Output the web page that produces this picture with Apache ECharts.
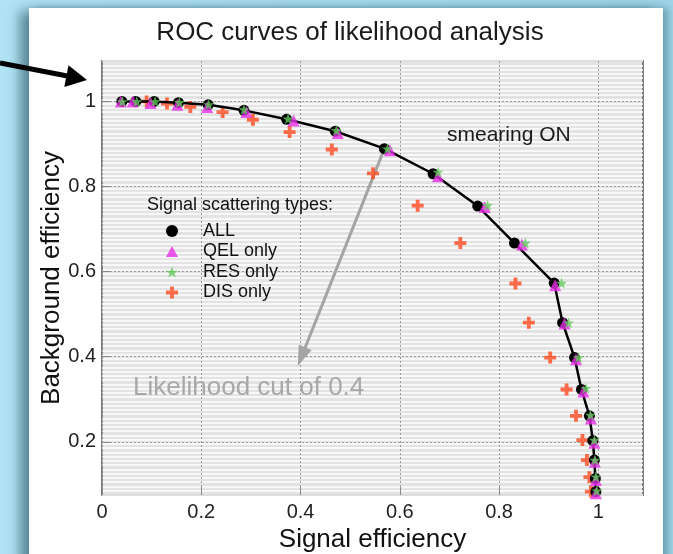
<!DOCTYPE html>
<html>
<head>
<meta charset="utf-8">
<script src="https://cdn.jsdelivr.net/npm/echarts@6/dist/echarts.min.js"></script>
<style>
  html, body { margin: 0; padding: 0; width: 673px; height: 554px; overflow: hidden; }
  body { position: relative; background: linear-gradient(to right, #b0e4f5 0%, #a7ddef 50%, #9fd5e8 100%); }
  #panel { position: absolute; left: 29px; top: 8px; width: 634px; height: 620px; background: #fff;
           box-shadow: -9px 3px 12px rgba(30, 70, 85, 0.6), 5px 0 7px rgba(30, 70, 85, 0.35); }
  #chart { position: absolute; left: 0; top: 0; width: 673px; height: 554px; }
</style>
</head>
<body>
<div id="panel"></div>
<div id="chart"></div>
<script>
// Signal / background efficiency pairs for each likelihood cut
const allSignal     = [0.040, 0.068, 0.105, 0.154, 0.214, 0.286, 0.372, 0.470, 0.569, 0.667, 0.757, 0.831, 0.911, 0.928, 0.952, 0.966, 0.982, 0.989, 0.992, 0.994, 0.995];
const allBackground = [1.000, 1.000, 1.000, 0.997, 0.992, 0.979, 0.958, 0.930, 0.889, 0.830, 0.754, 0.667, 0.573, 0.480, 0.398, 0.323, 0.261, 0.203, 0.157, 0.114, 0.083];

const qelSignal     = [0.038, 0.062, 0.098, 0.152, 0.212, 0.291, 0.386, 0.475, 0.580, 0.677, 0.771, 0.846, 0.913, 0.932, 0.955, 0.970, 0.985, 0.992, 0.993, 0.995, 0.995];
const qelBackground = [1.000, 1.000, 0.996, 0.992, 0.987, 0.975, 0.955, 0.926, 0.885, 0.824, 0.752, 0.664, 0.568, 0.478, 0.394, 0.318, 0.255, 0.198, 0.153, 0.110, 0.079];

const resSignal     = [0.041, 0.070, 0.107, 0.156, 0.215, 0.286, 0.375, 0.472, 0.575, 0.677, 0.777, 0.853, 0.926, 0.940, 0.960, 0.975, 0.984, 0.992, 0.993, 0.995, 0.997];
const resBackground = [1.000, 1.000, 1.000, 0.998, 0.993, 0.981, 0.959, 0.932, 0.889, 0.834, 0.756, 0.667, 0.573, 0.480, 0.398, 0.326, 0.263, 0.204, 0.157, 0.118, 0.085];

const disSignal     = [0.090, 0.131, 0.178, 0.243, 0.304, 0.378, 0.463, 0.546, 0.636, 0.722, 0.833, 0.860, 0.903, 0.936, 0.955, 0.968, 0.977, 0.982, 0.985];
const disBackground = [1.000, 0.995, 0.987, 0.975, 0.957, 0.928, 0.887, 0.831, 0.755, 0.667, 0.572, 0.480, 0.398, 0.323, 0.261, 0.204, 0.157, 0.117, 0.083];

// Tick labels
const xTicks = [0, 0.2, 0.4, 0.6, 0.8, 1];
const yTicks = [0.2, 0.4, 0.6, 0.8, 1];

// Cut annotation: starts at the ALL point for the 0.4 cut
const cutIndex = 8;
const cutArrowEnd = [0.402, 0.400];

const starPath = 'path://M50,0 L61.8,35.1 L98.1,35.1 L68.8,56.8 L79.4,91 L50,70 L20.6,91 L31.2,56.8 L1.9,35.1 L38.2,35.1 Z';
const plusPath = 'path://M34,0 H66 V34 H100 V66 H66 V100 H34 V66 H0 V34 H34 Z';
const trianglePath = 'path://M50,0 L100,90 L0,90 Z';

function zip(xs, ys) { return xs.map((x, i) => [x, ys[i]]); }

const FONT = '"Liberation Sans", Arial, Helvetica, sans-serif';
const chart = echarts.init(document.getElementById('chart'), null, { renderer: 'canvas' });

chart.setOption({
  animation: false,
  textStyle: { fontFamily: FONT },
  grid: {
    left: 102, top: 61, right: 30, bottom: 59, outerBoundsMode: 'none',
    show: true, backgroundColor: '#e3e3e3', borderColor: '#7c7c7c', borderWidth: 2, z: 0
  },
  xAxis: [{
    type: 'value', min: 0, max: 1.09, interval: 0.2, z: 2,
    name: 'Signal efficiency', nameLocation: 'middle', nameGap: 32, nameMoveOverlap: false,
    nameTextStyle: { fontSize: 26, color: '#111', fontFamily: FONT },
    axisLine: { show: false },
    axisTick: { show: true, inside: true, length: 8, customValues: xTicks, lineStyle: { color: '#888' } },
    axisLabel: { customValues: xTicks, fontSize: 20, color: '#222', margin: 7, fontFamily: FONT },
    splitLine: { show: true, lineStyle: { color: '#9c9c9c', type: [2, 2], width: 1 } }
  }],
  yAxis: [{
    type: 'value', min: 0.075, max: 1.095, z: 2,
    name: 'Background efficiency', nameLocation: 'middle', nameGap: 37, nameMoveOverlap: false,
    nameTextStyle: { fontSize: 26, color: '#111', fontFamily: FONT },
    axisLine: { show: false },
    axisTick: { show: true, inside: true, length: 8, customValues: yTicks, lineStyle: { color: '#888' } },
    axisLabel: { customValues: yTicks, fontSize: 20, color: '#222', margin: 6, fontFamily: FONT },
    splitLine: { show: true, lineStyle: { color: '#9c9c9c', type: [2, 2], width: 1 } }
  }, {
    // fine horizontal hatching of the plot background
    type: 'value', min: 0, max: 1.02, interval: 0.01, z: 1,
    axisLine: { show: false }, axisTick: { show: false }, axisLabel: { show: false },
    splitLine: { show: true, lineStyle: { color: '#ffffff', width: 1.5 } }
  }],
  legend: {
    data: [
      { name: 'ALL', icon: 'circle' },
      { name: 'QEL only', icon: trianglePath },
      { name: 'RES only', icon: starPath },
      { name: 'DIS only', icon: plusPath }
    ],
    orient: 'vertical', left: 161, top: 217,
    itemWidth: 12, itemHeight: 12, itemGap: 2.5,
    selectedMode: false,
    textStyle: { fontSize: 18, color: '#111', fontFamily: FONT, padding: [0, 0, 0, 20] }
  },
  series: [{
    name: 'DIS only', type: 'scatter', z: 5,
    data: zip(disSignal, disBackground),
    symbol: plusPath, symbolSize: 12,
    itemStyle: { color: '#ff4a1f' }
  }, {
    name: 'ALL', type: 'line', z: 6,
    data: zip(allSignal, allBackground),
    symbol: 'circle', symbolSize: 11, showAllSymbol: true,
    lineStyle: { color: '#000', width: 2.5 },
    itemStyle: { color: '#000' },
    markLine: {
      silent: true, animation: false,
      symbol: ['none', 'triangle'], symbolSize: [14, 20],
      label: { show: false },
      lineStyle: { color: '#a4a4a4', width: 3, type: 'solid' },
      data: [[{ coord: [allSignal[cutIndex], allBackground[cutIndex]] }, { coord: cutArrowEnd }]]
    }
  }, {
    name: 'QEL only', type: 'scatter', z: 7,
    data: zip(qelSignal, qelBackground),
    symbol: trianglePath, symbolSize: 12,
    itemStyle: { color: '#e62ee6' }
  }, {
    name: 'RES only', type: 'scatter', z: 8,
    data: zip(resSignal, resBackground),
    symbol: starPath, symbolSize: 11,
    itemStyle: { color: '#62c95a' }
  }],
  graphic: [
    { type: 'text', x: 350, y: 33, z: 20,
      style: { text: 'ROC curves of likelihood analysis', font: '26px ' + FONT, fill: '#1a1a1a', textAlign: 'center', textVerticalAlign: 'middle' } },
    { type: 'text', x: 447, y: 135, z: 20,
      style: { text: 'smearing ON', font: '21px ' + FONT, fill: '#1a1a1a', textAlign: 'left', textVerticalAlign: 'middle' } },
    { type: 'text', x: 147, y: 205, z: 20,
      style: { text: 'Signal scattering types:', font: '18px ' + FONT, fill: '#111', textAlign: 'left', textVerticalAlign: 'middle' } },
    { type: 'text', x: 133, y: 388, z: 20,
      style: { text: 'Likelihood cut of 0.4', font: '26px ' + FONT, fill: '#a8a8a8', textAlign: 'left', textVerticalAlign: 'middle' } },
    // pointer arrow at the top left
    { type: 'line', z: 20, shape: { x1: 0, y1: 63, x2: 70, y2: 76.5 }, style: { stroke: '#000', lineWidth: 5 } },
    { type: 'polygon', z: 20, shape: { points: [[87, 80], [68.5, 65.3], [64.3, 86.9]] }, style: { fill: '#000' } }
  ]
});
</script>
</body>
</html>
